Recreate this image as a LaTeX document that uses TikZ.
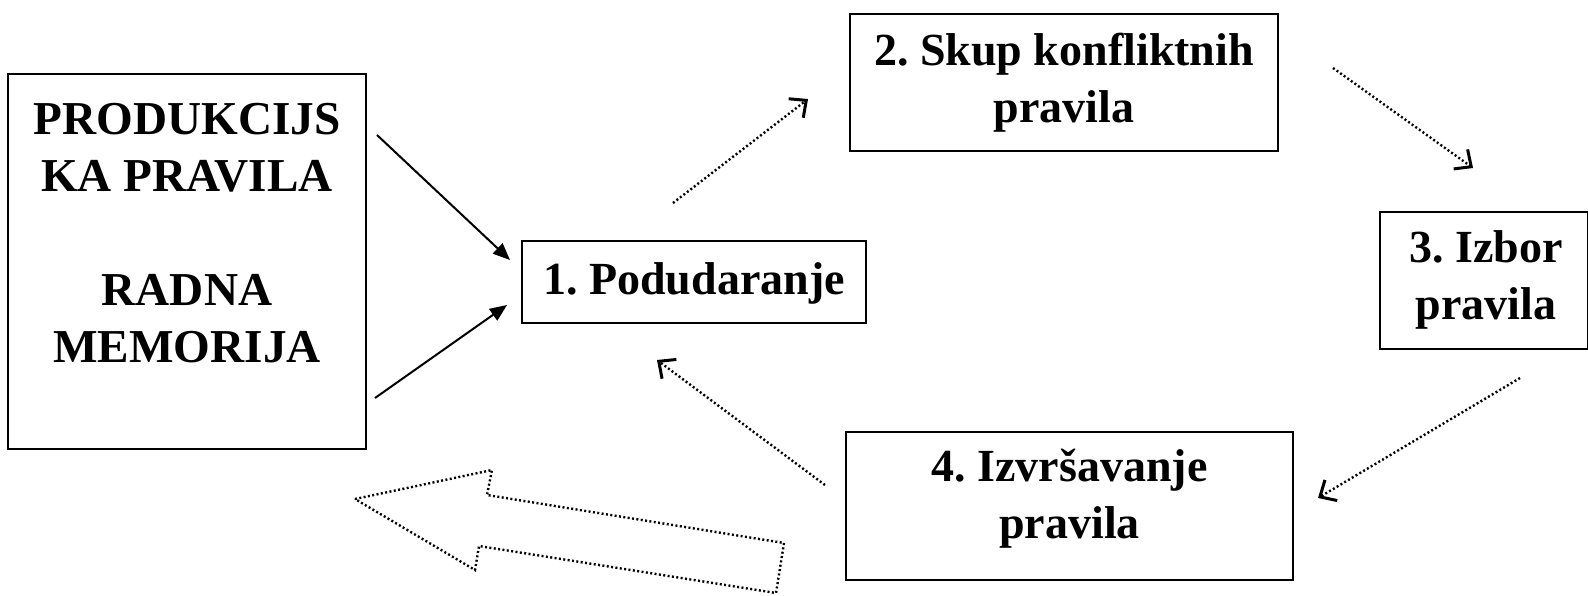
\documentclass[tikz,border=0pt]{standalone}
\usepackage{fontspec}
\setmainfont{Liberation Serif}
\usetikzlibrary{arrows.meta}
\frenchspacing
\begin{document}
\begin{tikzpicture}[x=0.5pt,y=-0.5pt,
  box/.style={draw, line width=1pt, inner sep=0pt},
  lbl/.style={align=center, font=\fontsize{23}{28.5}\selectfont\bfseries, inner sep=0pt},
  caps/.style={align=center, font=\fontsize{23.6}{28.5}\selectfont\bfseries, inner sep=0pt},
  solidarrow/.style={line width=1pt, -{Triangle[length=8.5pt,width=7pt]}},
  dotarrow/.style={line width=1.2pt, dash pattern=on 1pt off 1.2pt, -{Straight Barb[length=6.5pt,width=12pt,line width=1.5pt]}},
  hollow/.style={line width=1.2pt, dash pattern=on 1pt off 1.2pt, line join=miter}]
\useasboundingbox (0,0) rectangle (1588,595);
% boxes
\node[box, minimum width=179pt, minimum height=187.5pt] (lm) at (187,261.5) {};
\node[caps] (lmtext) at (187,233) {PRODUKCIJS\\KA PRAVILA\\[28.5pt]RADNA\\MEMORIJA};
\node[box, minimum width=172pt, minimum height=41pt] (b1) at (694,282) {};
\node[lbl] (b1text) at (694,283) {1. Podudaranje};
\node[box, minimum width=214pt, minimum height=68.5pt] (b2) at (1064,82.5) {};
\node[lbl] (b2text) at (1064,83) {2. Skup konfliktnih\\pravila};
\node[box, minimum width=104pt, minimum height=68.5pt] (b3) at (1484,280.5) {};
\node[lbl] (b3text) at (1486,280) {3. Izbor\\pravila};
\node[box, minimum width=223.5pt, minimum height=74pt] (b4) at (1069.5,506) {};
\node[lbl] (b4text) at (1069.5,499) {4. Izvršavanje\\pravila};
% connector end points
\coordinate (s1a) at (377,135); \coordinate (s1b) at (510,260);
\coordinate (s2a) at (375,398); \coordinate (s2b) at (507,305);
\coordinate (d1a) at (673,203); \coordinate (d1b) at (808,99);
\coordinate (d2a) at (1333,68); \coordinate (d2b) at (1473,168);
\coordinate (d3a) at (1520,378); \coordinate (d3b) at (1318,498);
\coordinate (d4a) at (825,485); \coordinate (d4b) at (657,360);
\draw[solidarrow] (s1a) -- (s1b);
\draw[solidarrow] (s2a) -- (s2b);
\draw[dotarrow] (d1a) -- (d1b);
\draw[dotarrow] (d2a) -- (d2b);
\draw[dotarrow] (d3a) -- (d3b);
\draw[dotarrow] (d4a) -- (d4b);
% big hollow arrow
\coordinate (h1) at (355,499);
\coordinate (h2) at (492,470);
\coordinate (h3) at (487,495);
\coordinate (h4) at (784,543);
\coordinate (h5) at (776,593);
\coordinate (h6) at (479,546);
\coordinate (h7) at (475,570);
\draw[hollow] (h1) -- (h2) -- (h3) -- (h4) -- (h5) -- (h6) -- (h7) -- cycle;
\end{tikzpicture}
\end{document}
